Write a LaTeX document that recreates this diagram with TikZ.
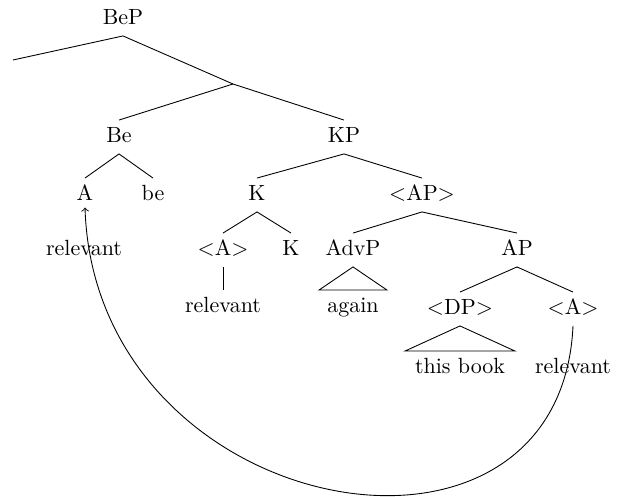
\documentclass[tikz,border=0pt]{standalone}
\begin{document}
\begin{tikzpicture}[x=0.4545pt,y=-0.4545pt,
  lab/.style={inner sep=3pt,text height=7pt,text depth=2pt},
  edge/.style={draw,line width=0.4pt}]
\useasboundingbox (0,0) rectangle (625,497);
% nodes
\node[lab] (BeP) at (123,19) {BeP};
\coordinate (j) at (233,84);
\coordinate (lf) at (13,60);
\node[lab] (Be) at (119,137) {Be};
\node[lab] (KP) at (344,137) {KP};
\node[lab] (A) at (85,195) {A};
\node[lab] (be) at (153,195) {be};
\node[lab] (K) at (257,195) {K};
\node[lab] (APt) at (422,195) {$<$AP$>$};
\node[lab] (rel1) at (84,250) {relevant};
\node[lab] (tA) at (223,250) {$<$A$>$};
\node[lab] (K2) at (291,250) {K};
\node[lab] (AdvP) at (353,250) {AdvP};
\node[lab] (AP) at (517,250) {AP};
\node[lab] (rel2) at (223,307) {relevant};
\node[lab] (again) at (353,307) {again};
\node[lab] (DP) at (460,309) {$<$DP$>$};
\node[lab] (tA2) at (573,309) {$<$A$>$};
\node[lab] (book) at (460,368) {this book};
\node[lab] (rel3) at (573,368) {relevant};
% branches
\draw[edge] (lf) -- (BeP.south) -- (j);
\draw[edge] (Be.north) -- (j) -- (KP.north);
\draw[edge] (A.north) -- (Be.south) -- (be.north);
\draw[edge] (K.north) -- (KP.south) -- (APt.north);
\draw[edge] (tA.north) -- (K.south) -- (K2.north);
\draw[edge] (AdvP.north) -- (APt.south) -- (AP.north);
\draw[edge] (tA.south) -- (rel2.north);
\draw[edge] (DP.north) -- (AP.south) -- (tA2.north);
\draw[edge] (AdvP.south) -- ([xshift=-34*0.4545pt]again.north) -- ([xshift=34*0.4545pt]again.north) -- cycle;
\draw[edge] (DP.south) -- ([xshift=-55*0.4545pt]book.north) -- ([xshift=55*0.4545pt]book.north) -- cycle;
% movement arrow
\draw[edge,->] (tA2.south) .. controls +(-13,280) and +(10,313) .. ([yshift=2pt]A.south);
\end{tikzpicture}
\end{document}
